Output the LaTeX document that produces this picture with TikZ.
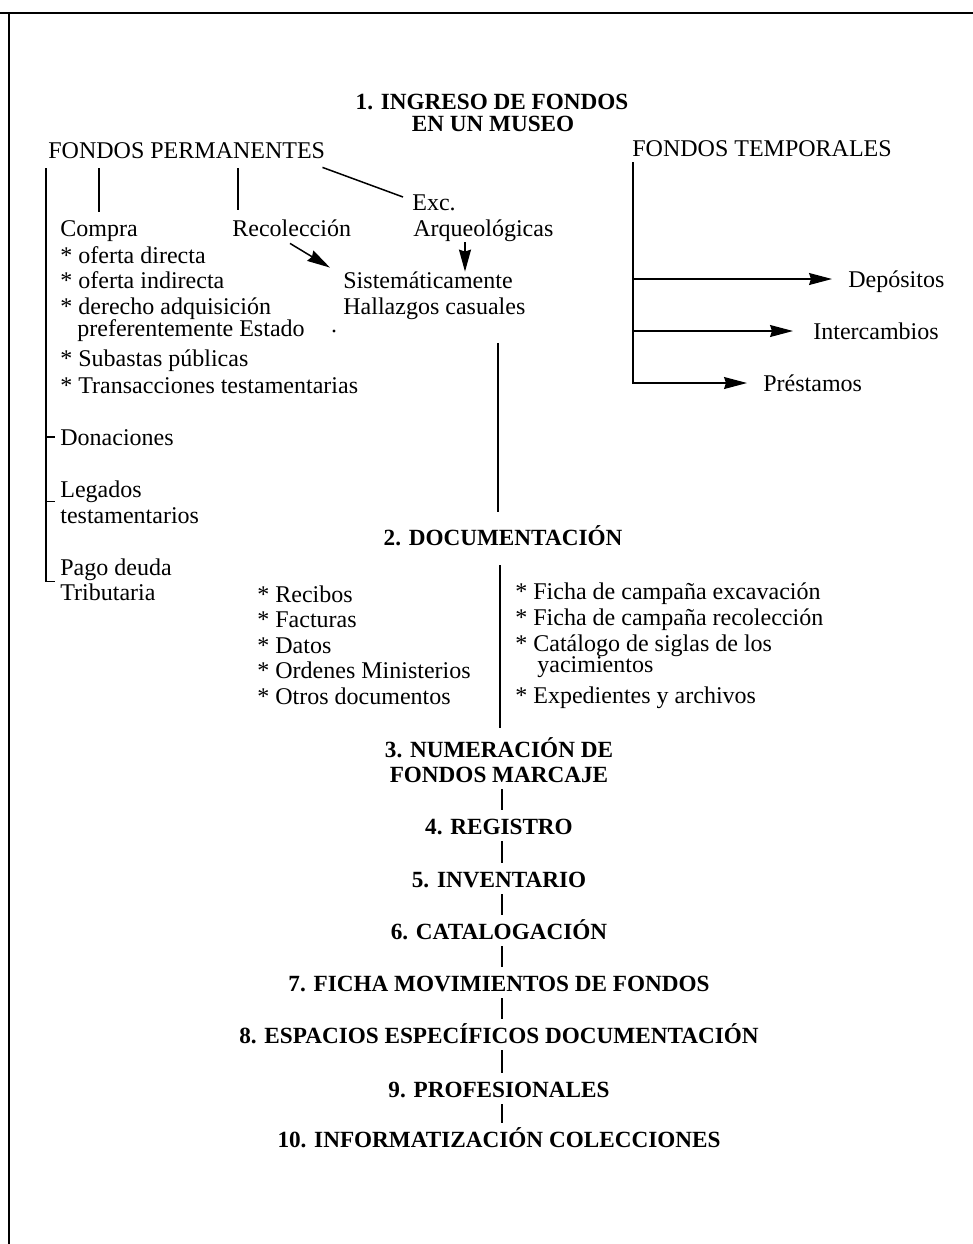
\documentclass[tikz,border=0pt]{standalone}
\usepackage{fontspec}
\setmainfont{Liberation Serif}
\usetikzlibrary{arrows.meta,calc}
\newcommand\myrf{\fontsize{12pt}{14pt}\selectfont}
\newcommand\mybf{\fontsize{11.6pt}{14pt}\selectfont\bfseries}
\begin{document}
\begin{tikzpicture}[x=0.5pt,y=-0.5pt,
  txt/.style={inner sep=0pt, anchor=west, text height=8pt, text depth=0pt, font=\myrf},
  hd/.style={inner sep=0pt, anchor=center, text height=7.8pt, text depth=0pt, font=\mybf},
  ln/.style={line width=0.75pt},
  thinln/.style={line width=0.6pt},
  arr/.style={-{Stealth[length=11.5pt,width=6pt,inset=1pt]}},
  sarr/.style={-{Stealth[length=11pt,width=6pt,inset=1pt]}}
]
\fill[white] (0,0) rectangle (973,1244);
\useasboundingbox (0,0) rectangle (973,1244);
% frame of the page
\draw[line width=1pt] (0,13) -- (973,13);
\draw[line width=0.6pt] (9,13) -- (9,1244);

% headings
\node[hd] (h1)  at (492,102) {1. INGRESO DE FONDOS};
\node[hd] (h1b) at (493,124) {EN UN MUSEO};
\node[txt] (perm) at (48,150) {FONDOS PERMANENTES};
\node[txt] (temp) at (632,148) {FONDOS TEMPORALES};

% permanentes
\node[txt] (exc)    at (412,202) {Exc.};
\node[txt] (compra) at (60,228)  {Compra};
\node[txt] (recol)  at (232,228) {Recolección};
\node[txt] (arq)    at (413,228) {Arqueológicas};
\node[txt] (c1) at (60,255) {* oferta directa};
\node[txt] (c2) at (60,280) {* oferta indirecta};
\node[txt] (c3) at (60,306) {* derecho adquisición};
\node[txt] (c3b) at (77,328) {preferentemente Estado};
\fill (334,331) circle (0.8pt);
\node[txt] (c4) at (60,358) {* Subastas públicas};
\node[txt] (c5) at (60,385) {* Transacciones testamentarias};
\node[txt] (sis) at (343,280) {Sistemáticamente};
\node[txt] (hal) at (343,306) {Hallazgos casuales};
\node[txt] (don)  at (60,437) {Donaciones};
\node[txt] (leg1) at (60,489) {Legados};
\node[txt] (leg2) at (60,515) {testamentarios};
\node[txt] (pago1) at (60,567) {Pago deuda};
\node[txt] (pago2) at (60,592) {Tributaria};

% temporales
\node[txt] (dep)   at (848,279) {Depósitos};
\node[txt] (inter) at (813,331) {Intercambios};
\node[txt] (pres)  at (763,383) {Préstamos};

% documentacion
\node[hd] (doc) at (503,538) {2. DOCUMENTACIÓN};
\node[txt] (l1) at (257,594) {* Recibos};
\node[txt] (l2) at (257,619) {* Facturas};
\node[txt] (l3) at (257,645) {* Datos};
\node[txt] (l4) at (257,670) {* Ordenes Ministerios};
\node[txt] (l5) at (257,696) {* Otros documentos};
\node[txt] (r1) at (515,591) {* Ficha de campaña excavación};
\node[txt] (r2) at (515,617) {* Ficha de campaña recolección};
\node[txt] (r3) at (515,643) {* Catálogo de siglas de los};
\node[txt] (r3b) at (537,664) {yacimientos};
\node[txt] (r4) at (515,695) {* Expedientes y archivos};

% steps
\node[hd] (s3a) at (499,750) {3. NUMERACIÓN DE};
\node[hd] (s3b) at (499,775) {FONDOS MARCAJE};
\node[hd] (s4)  at (499,827) {4. REGISTRO};
\node[hd] (s5)  at (499,880) {5. INVENTARIO};
\node[hd] (s6)  at (499,932) {6. CATALOGACIÓN};
\node[hd] (s7)  at (499,984) {7. FICHA MOVIMIENTOS DE FONDOS};
\node[hd] (s8)  at (499,1036) {8. ESPACIOS ESPECÍFICOS DOCUMENTACIÓN};
\node[hd] (s9)  at (499,1090) {9. PROFESIONALES};
\node[hd] (s10) at (499,1140) {10. INFORMATIZACIÓN COLECCIONES};

% --- connectors: permanentes
\coordinate (lb) at ($(perm.south west)+(-2,10)$);
\coordinate (tk2) at ($(leg2.north west)+(-5,-5)$);
\coordinate (tk3) at ($(pago2.north west)+(-5,-2)$);
\draw[ln] (lb) |- (tk3);
\draw[ln] (lb |- don.west) -- ($(don.west)+(-5,0)$);
\draw[ln] (lb |- tk2) -- (tk2);
\draw[ln] (compra.north |- lb) -- ($(compra.north)+(0,-8)$);
\coordinate (rl) at ($(recol.north west)+(6,0)$);
\draw[ln] (rl |- lb) -- ($(rl)+(0,-10)$);
\draw[ln] ($(perm.south east)+(-3,9)$) -- ($(exc.west)+(-9,-5)$);
\draw[ln,arr] ($(recol.south west)+(58,7)$) -- ($(sis.north west)+(-13,-4)$);
\coordinate (aq) at ($(arq.south west)+(52,6)$);
\draw[ln,sarr] (aq) -- (aq |- sis.north);

% --- connectors: temporales
\coordinate (tv) at ($(temp.south west)+(1,6)$);
\draw[thinln,arr,shorten >=8pt] (tv) |- (pres.west);
\draw[thinln,arr,shorten >=8pt] (tv |- dep.west) -- (dep.west);
\draw[thinln,arr,shorten >=10pt] (tv |- inter.west) -- (inter.west);

% --- connectors: main column
\draw[ln] ($(doc.north)+(-5,-187)$) -- ($(doc.north)+(-5,-18)$);
\draw[ln] ($(doc.south)+(-3,19)$) -- ($(s3a.north)+(1,-14)$);
\foreach \a/\b in {s3b/s4, s4/s5, s5/s6, s6/s7, s7/s8, s8/s9, s9/s10}
  \draw[thinln] ($(\a.south)+(3,6)$) -- ($(\b.north)+(3,-9)$);
\end{tikzpicture}
\end{document}
